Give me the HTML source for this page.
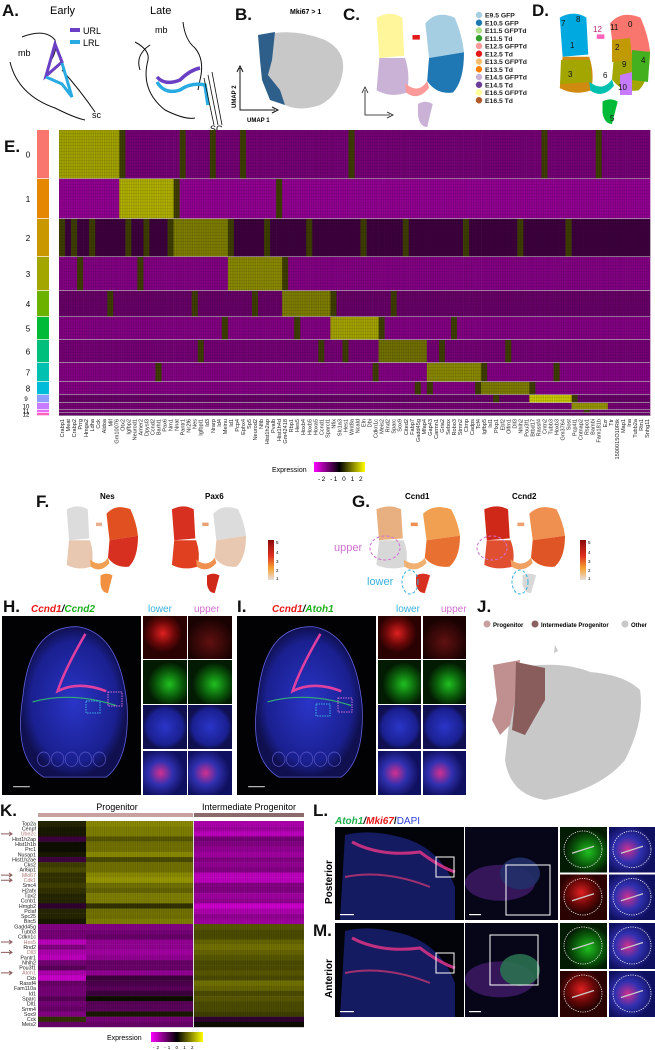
<!DOCTYPE html>
<html><head><meta charset="utf-8"><style>
html,body{margin:0;padding:0;background:#fff;}
svg{display:block;font-family:"Liberation Sans",Arial,sans-serif;}
.lbl{font-weight:bold;font-size:17px;fill:#111;}
</style></head><body>
<svg id="fig" width="655" height="1050" viewBox="0 0 655 1050" xmlns="http://www.w3.org/2000/svg">
<defs>
<radialGradient id="gBlue" cx="50%" cy="50%" r="50%"><stop offset="0" stop-color="#2a35c8"/><stop offset="0.8" stop-color="#1a2090"/><stop offset="1" stop-color="#101050"/></radialGradient>
<radialGradient id="gRed" cx="45%" cy="40%" r="45%"><stop offset="0" stop-color="#e02020"/><stop offset="0.6" stop-color="#6a0808"/><stop offset="1" stop-color="#2a0202"/></radialGradient>
<radialGradient id="gGreen" cx="60%" cy="55%" r="50%"><stop offset="0" stop-color="#20c020"/><stop offset="0.6" stop-color="#0a5a0a"/><stop offset="1" stop-color="#031a03"/></radialGradient>
<radialGradient id="gRedDim" cx="50%" cy="60%" r="55%"><stop offset="0" stop-color="#601010"/><stop offset="1" stop-color="#1a0202"/></radialGradient>
<radialGradient id="gMerge" cx="40%" cy="50%" r="55%"><stop offset="0" stop-color="#d03090"/><stop offset="0.5" stop-color="#3030b0"/><stop offset="1" stop-color="#101060"/></radialGradient>
<linearGradient id="gExpr" x1="0" x2="1"><stop offset="0" stop-color="#ff00ff"/><stop offset="0.5" stop-color="#000"/><stop offset="1" stop-color="#ffff00"/></linearGradient>
<linearGradient id="gHeat" x1="0" x2="0" y1="1" y2="0"><stop offset="0" stop-color="#e8e0dc"/><stop offset="0.3" stop-color="#f5a030"/><stop offset="0.6" stop-color="#e03020"/><stop offset="1" stop-color="#8a0a0a"/></linearGradient>
</defs>

<!-- A -->
<g>
<text class="lbl" x="2" y="16">A.</text>
<text x="50" y="14" font-size="11">Early</text>
<text x="150" y="14" font-size="11">Late</text>
<text x="18" y="56" font-size="9">mb</text>
<path d="M22 37 Q45 28 55 40 Q58 50 50 62" fill="none" stroke="#111" stroke-width="1"/>
<path d="M10 62 Q18 95 55 108 Q75 118 85 120" fill="none" stroke="#111" stroke-width="1"/>
<path d="M62 70 Q80 90 95 112" fill="none" stroke="#111" stroke-width="1"/>
<path d="M55 44 L62 62 L46 76 Z" fill="none" stroke="#6a3fc4" stroke-width="3"/>
<path d="M46 77 L62 84 L72 97 L62 63" fill="none" stroke="#29abe2" stroke-width="3"/>
<text x="92" y="118" font-size="9">sc</text>
<rect x="70" y="28" width="10" height="4" fill="#6a3fc4"/><text x="83" y="34" font-size="9">URL</text>
<rect x="70" y="40" width="10" height="4" fill="#29abe2"/><text x="83" y="46" font-size="9">LRL</text>
<text x="155" y="33" font-size="9">mb</text>
<path d="M183 22 Q185 40 195 48 Q205 60 200 80 L198 90" fill="none" stroke="#111" stroke-width="1"/>
<path d="M135 42 Q150 50 148 60 Q140 90 165 110 Q185 120 195 118" fill="none" stroke="#111" stroke-width="1"/>
<path d="M150 45 Q135 55 140 70" fill="none" stroke="#111" stroke-width="1"/>
<path d="M157 77 Q165 86 180 80 Q190 70 200 68" fill="none" stroke="#6a3fc4" stroke-width="3.5"/>
<path d="M157 82 Q165 95 180 90 Q192 82 205 85 L208 105" fill="none" stroke="#29abe2" stroke-width="3.5"/>
<path d="M204 78 L214 125 M208 75 L218 125 M212 72 L222 125" fill="none" stroke="#111" stroke-width="0.8"/>
<text x="210" y="132" font-size="9">SC</text>
</g>

<!-- B -->
<g>
<text class="lbl" x="235" y="20">B.</text>
<text x="290" y="14" font-size="7" font-weight="bold">Mki67 &gt; 1</text>
<path d="M275 33 Q300 30 325 40 Q345 50 343 70 Q340 95 320 105 Q300 112 285 105 Q265 80 262 60 Z" fill="#c8c8c8"/>
<path d="M258 35 L275 32 L272 60 L268 75 L280 90 L285 105 L270 100 L262 80 L260 60 Z" fill="#2d5f8a"/>
<path d="M240 100 L240 110 L275 110" fill="none" stroke="#111" stroke-width="1"/>
<path d="M240 68 L240 100 M237 72 L240 66 L243 72 M272 107 L278 110 L272 113" fill="none" stroke="#111" stroke-width="1"/>
<text x="247" y="122" font-size="6" font-weight="bold">UMAP 1</text>
<text x="236" y="108" font-size="6" font-weight="bold" transform="rotate(-90 236 108)">UMAP 2</text>
</g>

<!-- C -->
<g>
<text class="lbl" x="343" y="20">C.</text>
<g id="umapC"></g>
<path d="M365 90 L365 115 L390 115 M362 93 L365 87 L368 93 M387 112 L393 115 L387 118" fill="none" stroke="#111" stroke-width="0.8"/>
<g id="legendC"></g>
</g>

<!-- D -->
<g>
<text class="lbl" x="532" y="16">D.</text>
<g id="umapD"></g>
</g>

<!-- E -->
<g>
<text class="lbl" x="4" y="152">E.</text>
<g id="heatE"></g>
<text x="272" y="472" font-size="7">Expression</text>
<rect x="314" y="462" width="51" height="10" fill="url(#gExpr)"/>
<text x="318" y="481" font-size="6.5" letter-spacing="1.5">-2 -1 0 1 2</text>
</g>

<!-- F & G -->
<g>
<text class="lbl" x="36" y="507">F.</text>
<text x="100" y="499" font-size="8" font-weight="bold">Nes</text>
<text x="205" y="499" font-size="8" font-weight="bold">Pax6</text>
<g id="umapF1"></g><g id="umapF2"></g>
<rect x="268" y="540" width="6" height="40" fill="url(#gHeat)"/>
<text x="276" y="544" font-size="4.5">5</text><text x="276" y="554" font-size="4.5">4</text><text x="276" y="563" font-size="4.5">3</text><text x="276" y="572" font-size="4.5">2</text><text x="276" y="580" font-size="4.5">1</text>
</g>
<g>
<text class="lbl" x="352" y="507">G.</text>
<text x="405" y="499" font-size="8" font-weight="bold">Ccnd1</text>
<text x="512" y="499" font-size="8" font-weight="bold">Ccnd2</text>
<g id="umapG1"></g><g id="umapG2"></g>
<rect x="580" y="540" width="6" height="40" fill="url(#gHeat)"/>
<text x="588" y="544" font-size="4.5">5</text><text x="588" y="554" font-size="4.5">4</text><text x="588" y="563" font-size="4.5">3</text><text x="588" y="572" font-size="4.5">2</text><text x="588" y="580" font-size="4.5">1</text>
<text x="334" y="551" font-size="11" fill="#d070d0">upper</text>
<ellipse cx="385" cy="548" rx="15" ry="12" fill="none" stroke="#d070d0" stroke-width="1" stroke-dasharray="3 2"/>
<ellipse cx="492" cy="548" rx="15" ry="12" fill="none" stroke="#d070d0" stroke-width="1" stroke-dasharray="3 2"/>
<text x="367" y="585" font-size="11" fill="#3ab0e0">lower</text>
<ellipse cx="410" cy="582" rx="8" ry="12" fill="none" stroke="#3ab0e0" stroke-width="1" stroke-dasharray="3 2"/>
<ellipse cx="520" cy="582" rx="8" ry="12" fill="none" stroke="#3ab0e0" stroke-width="1" stroke-dasharray="3 2"/>
</g>

<!-- H & I -->
<g>
<text class="lbl" x="3" y="612">H.</text>
<text x="31" y="612" font-size="10" font-weight="bold" font-style="italic"><tspan fill="#e81818">Ccnd1</tspan><tspan fill="#111">/</tspan><tspan fill="#20b020">Ccnd2</tspan></text>
<text x="148" y="612" font-size="10" fill="#3ab0e0">lower</text>
<text x="194" y="612" font-size="10" fill="#d070d0">upper</text>
<g id="imgH"></g>
</g>
<g>
<text class="lbl" x="237" y="612">I.</text>
<text x="272" y="612" font-size="10" font-weight="bold" font-style="italic"><tspan fill="#e81818">Ccnd1</tspan><tspan fill="#111">/</tspan><tspan fill="#20b020">Atoh1</tspan></text>
<text x="396" y="612" font-size="10" fill="#3ab0e0">lower</text>
<text x="441" y="612" font-size="10" fill="#d070d0">upper</text>
<g id="imgI"></g>
</g>

<!-- J -->
<g>
<text class="lbl" x="477" y="612">J.</text>
<circle cx="487" cy="624" r="3.5" fill="#c8a0a0"/><text x="493" y="627" font-size="6" font-weight="bold">Progenitor</text>
<circle cx="535" cy="624" r="3.5" fill="#8a6060"/><text x="541" y="627" font-size="6" font-weight="bold">Intermediate Progenitor</text>
<circle cx="625" cy="624" r="3.5" fill="#c8c8c8"/><text x="631" y="627" font-size="6" font-weight="bold">Other</text>
<path d="M515 668 Q560 660 590 672 Q625 675 640 690 Q645 720 625 760 Q600 790 545 800 Q510 795 505 760 Z" fill="#c8c8c8"/>
<path d="M493 665 L520 660 L515 700 L510 725 L500 735 L492 720 L497 700 Z" fill="#c09090"/>
<path d="M516 662 L545 668 L545 700 L525 735 L512 730 L515 700 Z" fill="#8a5d5d"/>
<path d="M555 645 l3 6 l-4 2 Z" fill="#c8c8c8"/>
</g>

<!-- K -->
<g>
<text class="lbl" x="0" y="816">K.</text>
<text x="117" y="810" font-size="9" text-anchor="middle">Progenitor</text>
<text x="249" y="810" font-size="9" text-anchor="middle">Intermediate Progenitor</text>
<rect x="38" y="813" width="155" height="4" fill="#c8a0a0"/>
<rect x="194" y="813" width="110" height="4" fill="#8a6a6a"/>
<g id="heatK"></g>
<text x="107" y="1040" font-size="7">Expression</text>
<rect x="151" y="1032" width="52" height="10" fill="url(#gExpr)"/>
<text x="153" y="1049" font-size="4.5" letter-spacing="2">-2 -1 0 1 2</text>
</g>

<!-- L & M -->
<g>
<text class="lbl" x="313" y="816">L.</text>
<text x="335" y="824" font-size="10" font-weight="bold" font-style="italic"><tspan fill="#20b050">Atoh1</tspan><tspan fill="#111">/</tspan><tspan fill="#e81818">Mki67</tspan><tspan fill="#111" font-style="normal">/</tspan><tspan fill="#3040e0" font-style="normal" font-weight="normal">DAPI</tspan></text>
<text x="0" y="0" font-size="10" font-weight="bold" transform="translate(332 904) rotate(-90)">Posterior</text>
<g id="imgL"></g>
</g>
<g>
<text class="lbl" x="313" y="936">M.</text>
<text x="0" y="0" font-size="10" font-weight="bold" transform="translate(332 998) rotate(-90)">Anterior</text>
<g id="imgM"></g>
</g>
</svg>

<script>
const NS = "http://www.w3.org/2000/svg";
function mk(tag, attrs, parent) {
  const e = document.createElementNS(NS, tag);
  for (const k in attrs) e.setAttribute(k, attrs[k]);
  if (parent) parent.appendChild(e);
  return e;
}

// ===== Data: heatmap E =====
const clusterNames = ["0","1","2","3","4","5","6","7","8","9","10","11","12"];
const clusterColors = ["#f8766d","#e58700","#c99800","#a3a500","#6bb100","#00ba38","#00bf7d","#00c0af","#00bcd8","#8f9dff","#c77cff","#e76bf3","#ff62bc"];
const clusterSizes = [49, 40, 38, 34, 26, 23, 23, 19, 13, 8, 7, 3, 3];
const genesE = ["Crabp1","Meat","Crabp2","Prrg","Hmga2","Ldha","Cck","Aldoa","Mif","Gm10076","Otx2","Igfbp2","Neurod1","Amer2","Dpysl3","Ccnd2","Barhl1","Pax6","Nrn1","Nnat","Pantr1","Nr2f6","Nes","Igfbpl1","Id3","Nrarp","Id4","Meinu","Id1","Pcp4","Ephx4","Sp5","Neurod2","Nfib","Hist1h2ap","Pvalb","Hist1h4d","Gm42418","Rbp1","Hes5","Hoxb4","Hoxb5","Hoxa5","Ccnd1","Sparcl1","Nfix","Slc1a3","Hes1","Wnt8a","Ncald","Eln","Dbi","Cdkn1c","Meis2","Rnd2","Sparc","Sox9","Cited2","Fabp7","Gadd45g","Mfap4","Gap43","Carmn1","Gria2","Sebox","Robo3","Stmn2","Clmp","Cadps","Tcf4","Igfbp5","Isl1","Plxp1","Ebf2","Olfm1","Dll3","Nhlh2","Pou3f1","Btbd17","Rassf4","Cntn2","Tubb3","Hoxb3","Gm3764","Sost","Pcp4l1","Cntnap2","Rspo1","Bambi","Fam181b","Ezr","Ttr","1500015O10Rik","Map1","Ina","Tubb2a","Rtn1","Snhg11"];
// marker cluster for each gene
const geneMarker = [0,0,0,0,0,0,0,0,0,0, 1,1,1,1,1,1,1,1,1, 2,2,2,2,2,2,2,2,2, 3,3,3,3,3,3,3,3,3, 4,4,4,4,4,4,4,4, 5,5,5,5,5,5,5,5, 6,6,6,6,6,6,6,6, 7,7,7,7,7,7,7,7,7, 8,8,8,8,8,8,8,8, 9,9,9,9,9,9,9, 10,10,10,10,10,10];
// secondary cluster with moderate expression (-1 = none)
const geneSecondary = [2,-1,2,3,-1,2,-1,-1,4,-1, 0,2,-1,3,2,-1,7,-1,2, 1,0,-1,4,6,-1,0,-1,5, 2,-1,0,-1,4,-1,2,-1,1, 3,-1,5,-1,2,-1,6,-1, 4,-1,6,0,-1,2,-1,7, 5,-1,4,-1,2,-1,8,-1, 8,-1,6,-1,5,-1,2,-1,8, 7,-1,9,-1,6,-1,2,-1, 8,-1,0,-1,7,-1,2, 9,-1,11,-1,0,-1];
const markerHigh = [1.3, 1.4, 1.0, 1.1, 1.0, 1.3, 0.9, 1.1, 1.0, 1.6, 1.2, 1.2, 1.3];
const secondaryLevel = 0.5;
const offLevel = [-0.7, -0.9, -0.3, -0.8, -0.6, -0.8, -0.7, -0.8, -0.8, -0.6, -0.7, -0.7, -0.6];

// ===== Data: heatmap K =====
const genesK = ["Top2a","Cenpf","Ube2c","Hist1h2ap","Hist1h1b","Prc1","Nusap1","Hist1h2ae","Cks2","Arl6ip1","Mki67","Cdk1","Smc4","H2afx","Tpx2","Ccnb1","Hmgb2","Pclaf","Spc25","Birc5","Gadd45g","Tubb3","Cdkn1c","Hes5","Rnd2","Dll3","Pantr1","Nhlh2","Pou3f1","Atoh1","Ckb","Rassf4","Fam110a","Id1","Sparc","Dll1","Srrm4","Sox9","Cck","Meis2"];
const highlightK = ["Ube2c","Mki67","Cdk1","Hes5","Dll3","Atoh1"];
const groupsK = ["Progenitor early","Progenitor late","Intermediate Progenitor"];
const groupWidthsK = [48, 107, 111];
const exprK_early = [0.3,0.2,0.2,-0.3,0.1,0.1,0.2,-0.3,0.5,0.6,0.4,0.4,0.5,0.4,0.3,0.3,-0.2,0.3,0.3,0.2,-0.8,-0.7,-0.7,-1.2,-0.8,-1.1,-1.2,-0.7,-0.5,-1.1,-1.3,-0.6,-0.7,-0.7,-0.5,-0.7,-0.6,-0.8,0.4,-0.6];
const exprK_late = [1.1,1.0,1.0,0.7,0.9,0.9,1.1,0.6,0.9,0.9,1.1,1.2,0.9,0.8,1.0,1.0,0.4,0.9,0.9,1.0,-0.8,-0.7,-0.6,-0.9,-0.9,-1.0,-0.9,-0.6,-0.6,-0.9,-0.3,-0.4,-0.5,-0.3,0.1,-0.5,-0.5,0.2,-0.7,-0.6];
const exprK_ip = [-1.1,-1.0,-1.2,-0.7,-0.8,-0.9,-1.0,-0.8,-0.9,-0.8,-1.2,-1.2,-0.8,-0.8,-1.0,-0.9,-1.3,-1.1,-0.9,-1.0,0.7,0.6,0.6,0.8,0.9,0.8,0.7,0.6,0.6,0.7,0.6,0.9,0.8,0.6,0.7,0.6,0.6,0.5,-0.2,0.1];

// ===== Legend C =====
const samplesC = ["E9.5 GFP","E10.5 GFP","E11.5 GFPTd","E11.5 Td","E12.5 GFPTd","E12.5 Td","E13.5 GFPTd","E13.5 Td","E14.5 GFPTd","E14.5 Td","E16.5 GFPTd","E16.5 Td"];
const sampleColors = ["#a6cee3","#1f78b4","#b2df8a","#33a02c","#fb9a99","#e31a1c","#fdbf6f","#ff7f00","#cab2d6","#6a3d9a","#ffff99","#b15928"];

function exprColor(v) {
  v = Math.max(-2, Math.min(2, v));
  let r, g, b;
  if (v < 0) { const t = -v / 2; r = Math.min(255, 255*t*1.2+20*(1-t)); g = 0; b = r; }
  else { const t = v / 2; r = 255 * t; g = 255 * t; b = 0; }
  return `rgb(${Math.round(r)},${Math.round(g)},${Math.round(b)})`;
}

// ===== Draw heatmap E =====
(function () {
  const g = document.getElementById("heatE");
  const x0 = 59, x1 = 650, y0 = 130, y1 = 416;
  const total = clusterSizes.reduce((a, b) => a + b, 0);
  const yScale = v => y0 + (v / total) * (y1 - y0);
  const xScale = i => x0 + i * (x1 - x0) / genesE.length;
  const cw = (x1 - x0) / genesE.length;
  let acc = 0;
  clusterNames.forEach((c, ci) => {
    const ya = yScale(acc), yb = yScale(acc + clusterSizes[ci]);
    acc += clusterSizes[ci];
    const strip = mk("rect", { x: 37, y: ya, width: 12, height: Math.max(0.5, yb - ya - 0.7), fill: clusterColors[ci] }, g);
    
    
    const t = mk("text", { x: ci >= 9 ? 26 : 28, y: (ya + yb) / 2 + (ci >= 9 ? 2 : 3), "font-size": ci >= 9 ? 6 : 8, "text-anchor": "middle" }, g);
    t.textContent = c;
    genesE.forEach((gn, gi) => {
      let v = offLevel[ci];
      if (geneMarker[gi] === ci) v = markerHigh[ci];
      else if (geneSecondary[gi] === ci) v = secondaryLevel;
      const cell = mk("rect", { x: xScale(gi), y: ya, width: cw + 0.3, height: Math.max(0.5, yb - ya), fill: exprColor(v) }, g);
      
      
    });
    mk("rect", { x: x0, y: yb - 0.7, width: x1 - x0, height: 0.7, fill: "#c8b8c8" }, g);
  });
  for (let x = x0; x < x1; x += 1.8) mk("rect", { x: x, y: y0, width: 0.8, height: y1 - y0, fill: "#000", opacity: 0.15 }, g);
  for (let y = y0; y < y1; y += 3) mk("rect", { x: x0, y: y, width: x1 - x0, height: 1, fill: "#000", opacity: 0.08 }, g);
  genesE.forEach((gn, gi) => {
    const cx = xScale(gi) + cw / 2 + 2;
    const t = mk("text", { x: cx, y: 419, "font-size": 5.6, "text-anchor": "end", fill: "#222", transform: `rotate(-90 ${cx} 419)` }, g);
    t.textContent = gn;
    
    
  });
})();

// ===== Draw heatmap K =====
(function () {
  const g = document.getElementById("heatK");
  const x0 = 38, y0 = 821, y1 = 1027;
  const rh = (y1 - y0) / genesK.length;
  const yScale = i => y0 + i * rh;
  const series = [exprK_early, exprK_late, exprK_ip];
  let xa = x0;
  groupsK.forEach((grp, gi) => {
    const w = groupWidthsK[gi];
    genesK.forEach((gn, i) => {
      const cell = mk("rect", { x: xa, y: yScale(i), width: w, height: rh + 0.2, fill: exprColor(series[gi][i]) }, g);
      
      
    });
    xa += w;
  });
  for (let x = x0; x < xa; x += 2.2) mk("rect", { x: x, y: y0, width: 1, height: y1 - y0, fill: "#000", opacity: 0.12 }, g);
  mk("rect", { x: x0 + groupWidthsK[0] + groupWidthsK[1], y: y0, width: 1, height: y1 - y0, fill: "#ddd" }, g);
  genesK.forEach((gn, i) => {
    const hl = highlightK.includes(gn);
    const t = mk("text", { x: 36, y: yScale(i) + rh * 0.85, "font-size": 5.3, "text-anchor": "end", fill: hl ? "#b07a7a" : "#222" }, g);
    t.textContent = gn;
    
    
    if (hl) mk("path", { d: `M1 ${yScale(i) + rh / 2} L12 ${yScale(i) + rh / 2} M9 ${yScale(i) + rh / 2 - 2} L12 ${yScale(i) + rh / 2} L9 ${yScale(i) + rh / 2 + 2}`, stroke: "#8a5a5a", "stroke-width": 1, fill: "none" }, g);
  });
})();

// ===== Legend C =====
(function () {
  const g = document.getElementById("legendC");
  samplesC.forEach((s, i) => {
    const y = 15 + i * 7.75;
    const c = mk("circle", { cx: 479, cy: y, r: 3.2, fill: sampleColors[i] }, g);
    
    
    const t = mk("text", { x: 485, y: y + 2.5, "font-size": 6.8, "font-weight": "bold", fill: "#222" }, g);
    t.textContent = s;
  });
})();

// ===== UMAP drawing =====
function umap(id, x, y, w, h, cols) {
  const g = document.getElementById(id);
  const P = (px, py) => `${x + px * w} ${y + py * h}`;
  const shapes = [
    ["lt", `M${P(0.05,0.05)} Q${P(0.2,-0.02)} ${P(0.33,0.05)} L${P(0.35,0.38)} L${P(0.08,0.4)} Z`],
    ["lb", `M${P(0.08,0.4)} L${P(0.36,0.4)} Q${P(0.42,0.55)} ${P(0.38,0.7)} Q${P(0.2,0.75)} ${P(0.05,0.68)} Z`],
    ["br", `M${P(0.36,0.62)} Q${P(0.5,0.72)} ${P(0.6,0.6)} L${P(0.62,0.66)} Q${P(0.5,0.78)} ${P(0.37,0.7)} Z`],
    ["rt", `M${P(0.58,0.1)} Q${P(0.7,-0.02)} ${P(0.9,0.05)} Q${P(0.98,0.2)} ${P(1.0,0.35)} L${P(0.62,0.4)} Z`],
    ["rb", `M${P(0.62,0.4)} L${P(1.0,0.35)} Q${P(1.0,0.6)} ${P(0.88,0.7)} Q${P(0.7,0.72)} ${P(0.6,0.6)} Z`],
    ["is", `M${P(0.5,0.8)} Q${P(0.58,0.76)} ${P(0.66,0.8)} L${P(0.6,1.0)} Q${P(0.52,1.0)} ${P(0.5,0.9)} Z`],
    ["sm", `M${P(0.44,0.2)} l${w*0.08} 0 l0 ${h*0.04} l${-w*0.08} 0 Z`]
  ];
  shapes.forEach((s, i) => {
    const p = mk("path", { d: s[1], fill: cols[i] }, g);
    
    
  });
  return g;
}
umap("umapC", 372, 12, 92, 115, ["#fff59a", "#c9b2d6", "#fb9a99", "#a6cee3", "#1f78b4", "#cab2d6", "#e31a1c"]);
umap("umapD", 555, 12, 95, 112, ["#00a9e0", "#d08a10", "#00c0af", "#f8766d", "#a3a500", "#00ba38", "#ff62bc"]);
(function(){
  const g = document.getElementById("umapD");
  mk("path",{d:"M561 60 L590 60 L592 82 L560 84 Z",fill:"#a3a500"},g);
  mk("path",{d:"M612 40 L630 38 L632 60 L612 62 Z",fill:"#c09a00"},g);
  mk("path",{d:"M632 50 L650 52 L648 82 L632 80 Z",fill:"#44b020"},g);
  mk("path",{d:"M620 75 L632 72 L632 95 L620 95 Z",fill:"#c77cff"},g);
  const lab=[["7",561,26],["8",576,22],["1",570,48],["3",568,77],["12",593,32],["11",610,30],["0",628,27],["2",615,50],["9",622,67],["4",641,63],["6",603,78],["10",618,90],["5",610,121]];
  lab.forEach(l=>{const t=mk("text",{x:l[1],y:l[2],"font-size":8,fill:l[0]==="12"?"#c02070":"#111"},g);t.textContent=l[0];});
})();
umap("umapF1", 63, 505, 75, 88, ["#dcdcdc", "#e8c8b0", "#f0a050", "#e05020", "#d83020", "#f09040", "#e8b090"]);
umap("umapF2", 168, 505, 78, 88, ["#d83020", "#e04020", "#f09050", "#dcdcdc", "#e8c8b0", "#d02818", "#e8a070"]);
umap("umapG1", 372, 505, 88, 88, ["#e8b080", "#d8d8d8", "#f0b070", "#f0a050", "#e87030", "#d83020", "#f09050"]);
umap("umapG2", 480, 505, 85, 88, ["#d02818", "#e05030", "#f0a060", "#f09050", "#e05525", "#d8d8d8", "#f0a070"]);

// ===== Microscopy images =====
function head(g, x, y, w, h) {
  mk("rect", { x, y, width: w, height: h, fill: "#020205" }, g);
  mk("path", { d: `M${x+w*0.15} ${y+h*0.45} Q${x+w*0.2} ${y+h*0.05} ${x+w*0.55} ${y+h*0.06} Q${x+w*0.85} ${y+h*0.1} ${x+w*0.9} ${y+h*0.5} Q${x+w*0.92} ${y+h*0.8} ${x+w*0.75} ${y+h*0.9} L${x+w*0.3} ${y+h*0.9} Q${x+w*0.08} ${y+h*0.8} ${x+w*0.15} ${y+h*0.45} Z`, fill: "url(#gBlue)", stroke: "#6060e0", "stroke-width": 0.8 }, g);
  mk("path", { d: `M${x+w*0.6} ${y+h*0.1} Q${x+w*0.45} ${y+h*0.3} ${x+w*0.4} ${y+h*0.42} Q${x+w*0.55} ${y+h*0.36} ${x+w*0.75} ${y+h*0.42}`, fill: "none", stroke: "#e040a0", "stroke-width": 2.5 }, g);
  mk("path", { d: `M${x+w*0.22} ${y+h*0.48} Q${x+w*0.5} ${y+h*0.42} ${x+w*0.82} ${y+h*0.5}`, fill: "none", stroke: "#30b070", "stroke-width": 1.2 }, g);
  for (let i = 0; i < 5; i++) mk("ellipse", { cx: x + w * (0.3 + i * 0.1), cy: y + h * 0.8, rx: w * 0.045, ry: h * 0.04, fill: "none", stroke: "#5050c0", "stroke-width": 0.8 }, g);
  mk("rect", { x: x + w * 0.08, y: y + h * 0.95, width: w * 0.12, height: 1.2, fill: "#bbb" }, g);
}
function smalls(g, x1, x2, w, rows) {
  const fills = [["url(#gRed)", "url(#gRedDim)"], ["url(#gGreen)", "url(#gGreen)"], ["url(#gBlue)", "url(#gBlue)"], ["url(#gMerge)", "url(#gMerge)"]];
  rows.forEach((r, i) => {
    mk("rect", { x: x1, y: r[0], width: w, height: r[1], fill: fills[i][0] }, g);
    mk("rect", { x: x2, y: r[0], width: w, height: r[1], fill: fills[i][1] }, g);
  });
}
(function () {
  const rows = [[616, 43], [660, 44], [705, 44], [751, 44]];
  const gH = document.getElementById("imgH");
  head(gH, 2, 616, 139, 179);
  mk("rect", { x: 86, y: 701, width: 14, height: 12, fill: "none", stroke: "#3ab0e0", "stroke-dasharray": "1.5 1" }, gH);
  mk("rect", { x: 108, y: 692, width: 14, height: 14, fill: "none", stroke: "#d070d0", "stroke-dasharray": "1.5 1" }, gH);
  smalls(gH, 143, 188, 44, rows);
  const gI = document.getElementById("imgI");
  head(gI, 237, 616, 139, 179);
  mk("rect", { x: 316, y: 704, width: 14, height: 12, fill: "none", stroke: "#3ab0e0", "stroke-dasharray": "1.5 1" }, gI);
  mk("rect", { x: 338, y: 698, width: 14, height: 14, fill: "none", stroke: "#d070d0", "stroke-dasharray": "1.5 1" }, gI);
  smalls(gI, 378, 423, 43, rows);
})();
function section(g, y, h, anterior) {
  mk("rect", { x: 335, y, width: 129, height: h, fill: "#03030a" }, g);
  mk("path", { d: `M345 ${y+8} Q370 ${y+2} 400 ${y+10} Q440 ${y+20} 455 ${y+60} L455 ${y+h} L340 ${y+h} Z`, fill: "#182070", opacity: 0.85 }, g);
  mk("path", { d: `M352 ${y+15} Q380 ${y+30} 420 ${y+25} Q440 ${y+40} 455 ${y+45}`, fill: "none", stroke: "#c03080", "stroke-width": 3 }, g);
  mk("path", { d: `M345 ${y+50} Q385 ${y+42} 430 ${y+60}`, fill: "none", stroke: "#a03070", "stroke-width": 2 }, g);
  mk("rect", { x: 436, y: y + 30, width: 18, height: 20, fill: "none", stroke: "#fff", "stroke-width": 1 }, g);
  mk("rect", { x: 340, y: y + h - 6, width: 14, height: 1.2, fill: "#fff" }, g);
  mk("rect", { x: 465, y, width: 93, height: h, fill: "#060618" }, g);
  mk("ellipse", { cx: 500, cy: y + h * 0.6, rx: 35, ry: 18, fill: "#3a1860", opacity: 0.9 }, g);
  mk("ellipse", { cx: 520, cy: y + h * 0.5, rx: 20, ry: 16, fill: anterior ? "#2a7050" : "#24306a", opacity: 0.9 }, g);
  mk("rect", { x: anterior ? 490 : 506, y: y + (anterior ? 12 : 38), width: anterior ? 48 : 44, height: 50, fill: "none", stroke: "#fff", "stroke-width": 1 }, g);
  mk("rect", { x: 469, y: y + h - 6, width: 12, height: 1.2, fill: "#fff" }, g);
  const sub = [[560, y, "url(#gGreen)"], [609, y, "url(#gMerge)"], [560, y + h / 2 + 1, "url(#gRed)"], [609, y + h / 2 + 1, "url(#gMerge)"]];
  sub.forEach(s => {
    mk("rect", { x: s[0], y: s[1], width: 47, height: h / 2 - 1, fill: s[2] }, g);
    mk("ellipse", { cx: s[0] + 23, cy: s[1] + h / 4 - 1, rx: 19, ry: h / 4 - 5, fill: "none", stroke: "#fff", "stroke-width": 0.8, "stroke-dasharray": "1.2 1.2" }, g);
    mk("path", { d: `M${s[0]+12} ${s[1]+h/4+3} L${s[0]+34} ${s[1]+h/4-4}`, stroke: "#ccc", "stroke-width": 1.2 }, g);
  });
}
section(document.getElementById("imgL"), 827, 93, false);
section(document.getElementById("imgM"), 923, 94, true);
</script>
</body></html>
